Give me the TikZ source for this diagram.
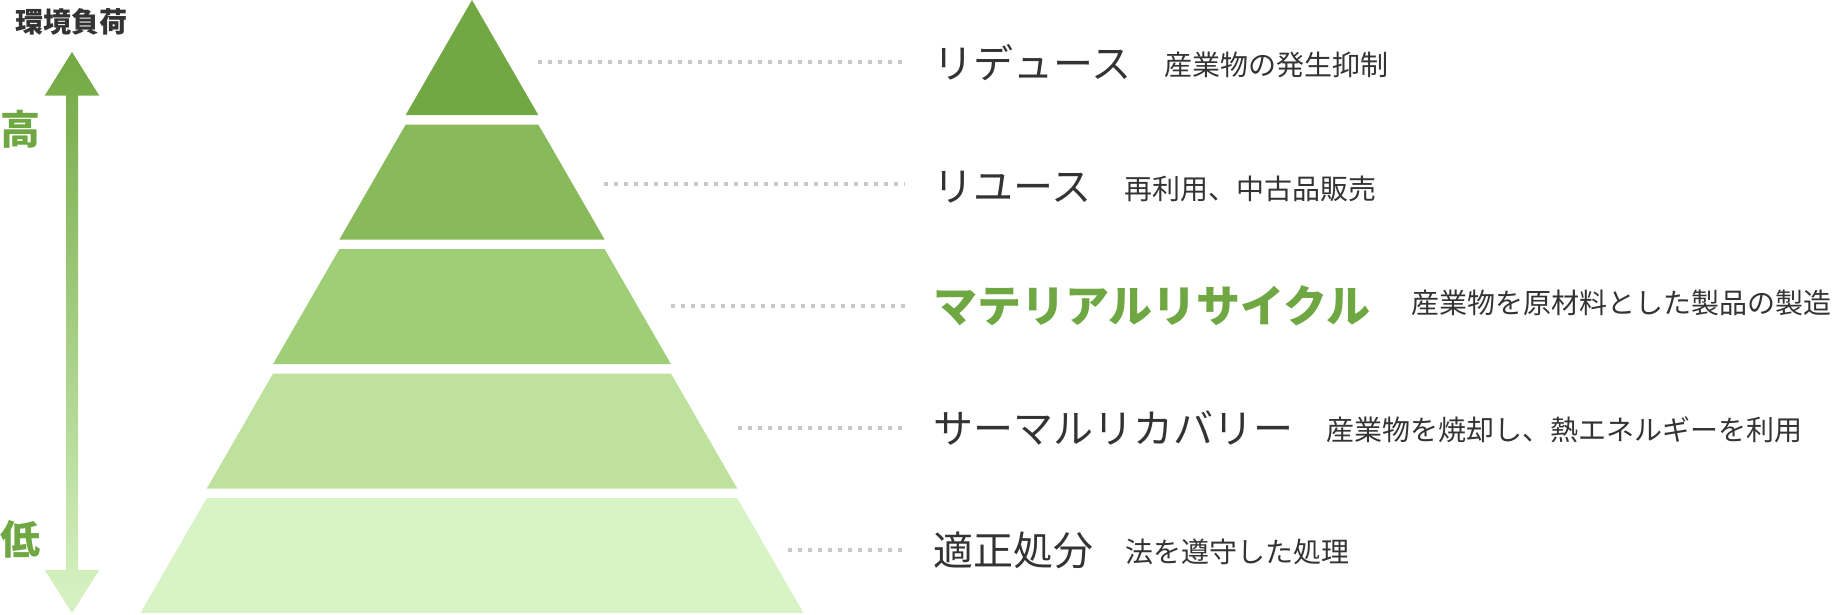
\documentclass[tikz,border=0pt]{standalone}
\usepackage{fontspec}
\setmainfont{Noto Sans CJK JP}
\usetikzlibrary{positioning}

\definecolor{lyrA}{HTML}{72A843}
\definecolor{lyrB}{HTML}{88B95B}
\definecolor{lyrC}{HTML}{A0CE76}
\definecolor{lyrD}{HTML}{BEE29D}
\definecolor{lyrE}{HTML}{D8F3C4}
\definecolor{txtgray}{HTML}{333333}
\definecolor{txtgreen}{HTML}{6FA843}
\definecolor{dotgray}{HTML}{C8C8C8}

\begin{document}
\begin{tikzpicture}[x=1pt, y=-1pt,
    lvtitle/.style={anchor=base west, inner sep=0pt, text=txtgray, font=\fontsize{40}{48}\selectfont},
    lvdesc/.style={inner sep=0pt, text=txtgray, font=\fontsize{28}{34}\selectfont},
    dotline/.style={draw=dotgray, line width=4pt, dash pattern=on 4pt off 6pt},
    sidelbl/.style={anchor=base, inner sep=0pt, font=\bfseries\fontsize{40}{48}\selectfont, text=txtgreen}]
    \useasboundingbox (0,0) rectangle (1836,614);

    % pyramid layers
    \foreach \i/\c in {0/lyrA,1/lyrB,2/lyrC,3/lyrD,4/lyrE}
        \fill[\c] ({472-66.3*\i},{124.5*\i}) -- ({472+66.3*\i},{124.5*\i})
            -- ({472+66.3*(\i+1)},{124.5*\i+115}) -- ({472-66.3*(\i+1)},{124.5*\i+115}) -- cycle;

    % load arrow
    \shade[top color=lyrA, bottom color=lyrE]
        (72,52) -- (99.3,95.7) -- (78,95.7) -- (78,570) -- (99.3,570) -- (72,613)
        -- (44.7,570) -- (66,570) -- (66,95.7) -- (44.7,95.7) -- cycle;
    \node[anchor=base, inner sep=0pt, text=txtgray, font=\bfseries\fontsize{28}{34}\selectfont] (load) at (71,32) {環境負荷};
    \node[sidelbl] (high) at (20,144) {高};
    \node[sidelbl] (low) at (21,554) {低};

    % levels
    \node[lvtitle] (t1) at (933,78) {リデュース};
    \node[lvdesc, right=33pt of t1.base east, anchor=base west, yshift=2.5pt] (s1) {産業物の発生抑制};
    \node[lvtitle] (t2) at (933,201) {リユース};
    \node[lvdesc, right=33pt of t2.base east, anchor=base west, yshift=2pt] (s2) {再利用、中古品販売};
    \node[lvtitle, text=txtgreen, font=\bfseries\fontsize{44}{52}\selectfont] (t3) at (933,322) {マテリアルリサイクル};
    \node[lvdesc, right=41pt of t3.base east, anchor=base west, yshift=9pt] (s3) {産業物を原材料とした製品の製造};
    \node[lvtitle] (t4) at (933,443) {サーマルリカバリー};
    \node[lvdesc, right=33pt of t4.base east, anchor=base west, yshift=2.5pt] (s4) {産業物を焼却し、熱エネルギーを利用};
    \node[lvtitle] (t5) at (933,565) {適正処分};
    \node[lvdesc, right=32pt of t5.base east, anchor=base west, yshift=3pt] (s5) {法を遵守した処理};

    % dotted leaders
    \coordinate (d1) at (538,61.5);
    \coordinate (d2) at (604,183.6);
    \coordinate (d3) at (671,306);
    \coordinate (d4) at (738,427.7);
    \coordinate (d5) at (788,549.7);
    \foreach \i in {1,...,5}
        \draw[dotline, shorten >=28pt] (d\i) -- (d\i -| t\i.west);
\end{tikzpicture}
\end{document}
